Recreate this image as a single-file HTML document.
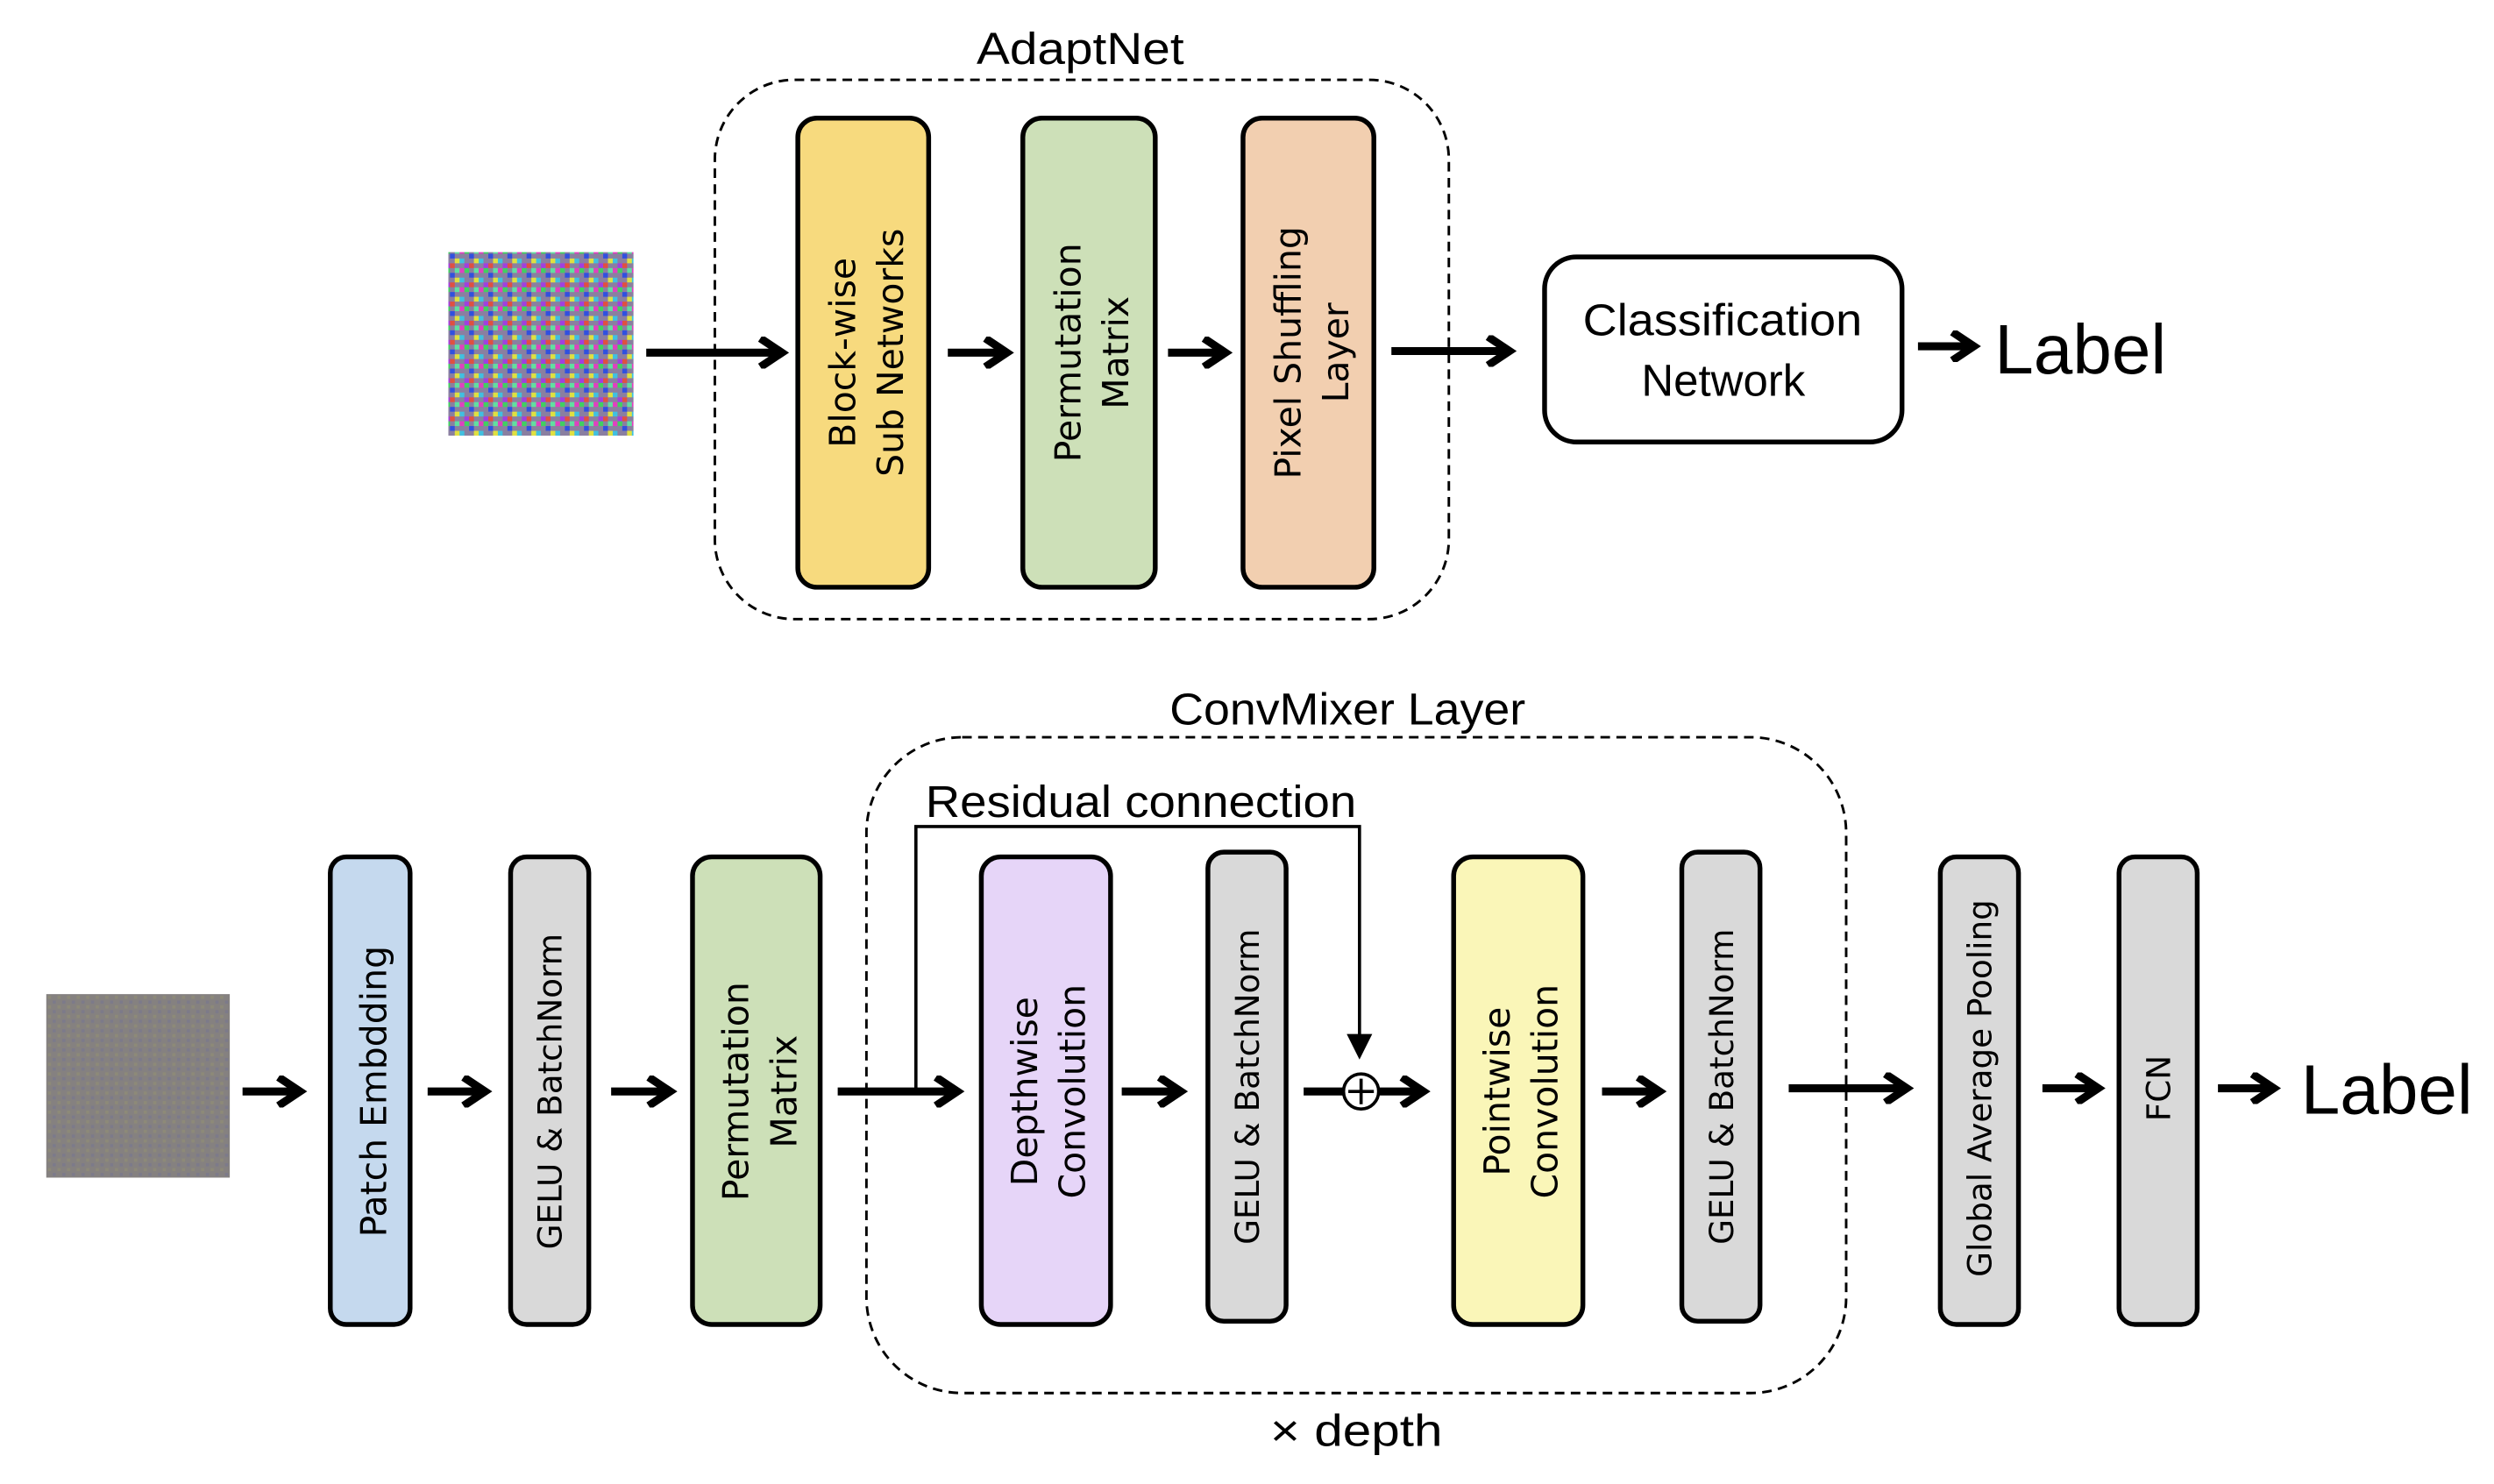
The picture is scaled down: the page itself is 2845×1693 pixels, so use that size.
<!DOCTYPE html>
<html><head><meta charset="utf-8"><style>
html,body{margin:0;padding:0;background:#fff}
svg{display:block}
text{font-family:"Liberation Sans","DejaVu Sans",sans-serif;fill:#000}
.r{font-family:"DejaVu Sans","Liberation Sans",sans-serif}
</style></head><body>
<svg width="2845" height="1693" viewBox="0 0 1563 930" preserveAspectRatio="none" xmlns="http://www.w3.org/2000/svg">
<defs>
<pattern id="noise" width="12" height="12" patternUnits="userSpaceOnUse">
<rect width="12" height="12" fill="#8a7fa0"/>
<rect x="0" y="0" width="3" height="3" fill="#e040c0"/><rect x="3" y="0" width="3" height="3" fill="#40d060"/>
<rect x="6" y="3" width="3" height="3" fill="#3050e0"/><rect x="9" y="6" width="3" height="3" fill="#e0e040"/>
<rect x="0" y="6" width="3" height="3" fill="#40c0e0"/><rect x="6" y="9" width="3" height="3" fill="#e05040"/>
<rect x="3" y="9" width="3" height="3" fill="#a040e0"/><rect x="9" y="0" width="3" height="3" fill="#60e0a0"/>
</pattern>
<pattern id="gnoise" width="6" height="6" patternUnits="userSpaceOnUse">
<rect width="6" height="6" fill="#858180"/>
<rect x="0" y="0" width="2" height="2" fill="#8d8a78"/><rect x="3" y="3" width="2" height="2" fill="#7c7a8a"/>
</pattern>
<marker id="ah" markerWidth="4" markerHeight="4" refX="3" refY="2" orient="auto" markerUnits="strokeWidth">
<path d="M0.3,0.2 L3,2 L0.3,3.8" fill="none" stroke="#000" stroke-width="1"/>
</marker>
<marker id="ah2" markerWidth="8" markerHeight="8" refX="7" refY="4" orient="auto" markerUnits="strokeWidth">
<path d="M0,0 L8,4 L0,8 Z" fill="#000"/>
</marker>
</defs>

<!-- TOP -->
<text x="612" y="40" font-size="28" textLength="130" lengthAdjust="spacingAndGlyphs">AdaptNet</text>
<rect x="448" y="50" width="460" height="338" rx="50" fill="none" stroke="#000" stroke-width="1.6" stroke-dasharray="6,4"/>
<rect x="281" y="158" width="116" height="115" fill="url(#noise)"/>
<g stroke="#000" stroke-width="5" fill="none" marker-end="url(#ah)">
<line x1="405" y1="221" x2="490" y2="221"/>
<line x1="594" y1="221" x2="631" y2="221"/>
<line x1="732" y1="221" x2="768" y2="221"/>
<line x1="872" y1="220" x2="946" y2="220"/>
<line x1="1202" y1="217" x2="1237" y2="217"/>
</g>
<rect x="500" y="74" width="82" height="294" rx="12" fill="#f7da7e" stroke="#000" stroke-width="3"/>
<rect x="641" y="74" width="83" height="294" rx="12" fill="#cde0b8" stroke="#000" stroke-width="3"/>
<rect x="779" y="74" width="82" height="294" rx="12" fill="#f2cfb0" stroke="#000" stroke-width="3"/>
<g font-size="22.5" text-anchor="middle" class="r">
<text class="r" transform="translate(541,221) rotate(-90)"><tspan x="0" y="-5">Block-wise</tspan><tspan x="0" y="25">Sub Networks</tspan></text>
<text class="r" transform="translate(682,221) rotate(-90)"><tspan x="0" y="-5">Permutation</tspan><tspan x="0" y="25">Matrix</tspan></text>
<text class="r" transform="translate(820,221) rotate(-90)"><tspan x="0" y="-5">Pixel Shuffling</tspan><tspan x="0" y="25">Layer</tspan></text>
</g>
<rect x="968" y="161" width="224" height="116" rx="20" fill="#fff" stroke="#000" stroke-width="3"/>
<text x="992" y="210" font-size="28" textLength="175" lengthAdjust="spacingAndGlyphs">Classification</text>
<text x="1080" y="248" font-size="28" text-anchor="middle">Network</text>
<text x="1250" y="234" font-size="44">Label</text>

<!-- BOTTOM -->
<text x="733" y="454" font-size="28" textLength="223" lengthAdjust="spacingAndGlyphs">ConvMixer Layer</text>
<rect x="543" y="462" width="614" height="411" rx="60" fill="none" stroke="#000" stroke-width="1.6" stroke-dasharray="6,4"/>
<rect x="29" y="623" width="115" height="115" fill="url(#gnoise)"/>

<text x="580" y="512" font-size="28" textLength="270" lengthAdjust="spacingAndGlyphs">Residual connection</text>
<polyline points="574,684 574,518 852,518 852,662" fill="none" stroke="#000" stroke-width="2" marker-end="url(#ah2)"/>

<g stroke="#000" stroke-width="5" fill="none" marker-end="url(#ah)">
<line x1="152" y1="684" x2="188" y2="684"/>
<line x1="268" y1="684" x2="304" y2="684"/>
<line x1="383" y1="684" x2="420" y2="684"/>
<line x1="525" y1="684" x2="600" y2="684"/>
<line x1="703" y1="684" x2="740" y2="684"/>
<line x1="817" y1="684" x2="892" y2="684"/>
<line x1="1004" y1="684" x2="1040" y2="684"/>
<line x1="1121" y1="682" x2="1195" y2="682"/>
<line x1="1280" y1="682" x2="1315" y2="682"/>
<line x1="1390" y1="682" x2="1425" y2="682"/>
</g>
<circle cx="853" cy="684" r="11" fill="#fff" stroke="#000" stroke-width="2"/>
<line x1="853" y1="676" x2="853" y2="692" stroke="#000" stroke-width="2"/>
<line x1="845" y1="684" x2="861" y2="684" stroke="#000" stroke-width="2"/>

<g stroke="#000" stroke-width="3">
<rect x="207" y="537" width="50" height="293" rx="10" fill="#c5d9ee"/>
<rect x="320" y="537" width="49" height="293" rx="10" fill="#d9d9d9"/>
<rect x="434" y="537" width="80" height="293" rx="12" fill="#cde0b8"/>
<rect x="615" y="537" width="81" height="293" rx="12" fill="#e6d5f8"/>
<rect x="757" y="534" width="49" height="294" rx="10" fill="#d9d9d9"/>
<rect x="911" y="537" width="81" height="293" rx="12" fill="#faf6b8"/>
<rect x="1054" y="534" width="49" height="294" rx="10" fill="#d9d9d9"/>
<rect x="1216" y="537" width="49" height="293" rx="10" fill="#d9d9d9"/>
<rect x="1328" y="537" width="49" height="293" rx="10" fill="#d9d9d9"/>
</g>
<g text-anchor="middle">
<text class="r" transform="translate(242,684) rotate(-90)" font-size="22.5">Patch Embdding</text>
<text class="r" transform="translate(352,684) rotate(-90)" font-size="20.5">GELU &amp; BatchNorm</text>
<text class="r" transform="translate(474,684) rotate(-90)" font-size="22.5"><tspan x="0" y="-5">Permutation</tspan><tspan x="0" y="25">Matrix</tspan></text>
<text class="r" transform="translate(655,684) rotate(-90)" font-size="22.5"><tspan x="0" y="-5">Depthwise</tspan><tspan x="0" y="25">Convolution</tspan></text>
<text class="r" transform="translate(789,681) rotate(-90)" font-size="20.5">GELU &amp; BatchNorm</text>
<text class="r" transform="translate(951,684) rotate(-90)" font-size="22.5"><tspan x="0" y="-5">Pointwise</tspan><tspan x="0" y="25">Convolution</tspan></text>
<text class="r" transform="translate(1086,681) rotate(-90)" font-size="20.5">GELU &amp; BatchNorm</text>
<text class="r" transform="translate(1248,682) rotate(-90)" font-size="20.5">Global Average Pooling</text>
<text class="r" transform="translate(1360,682) rotate(-90)" font-size="20.5">FCN</text>
</g>
<text x="1442" y="698" font-size="44">Label</text>
<text x="796" y="906" font-size="28" textLength="108" lengthAdjust="spacingAndGlyphs">× depth</text>
</svg>
</body></html>
